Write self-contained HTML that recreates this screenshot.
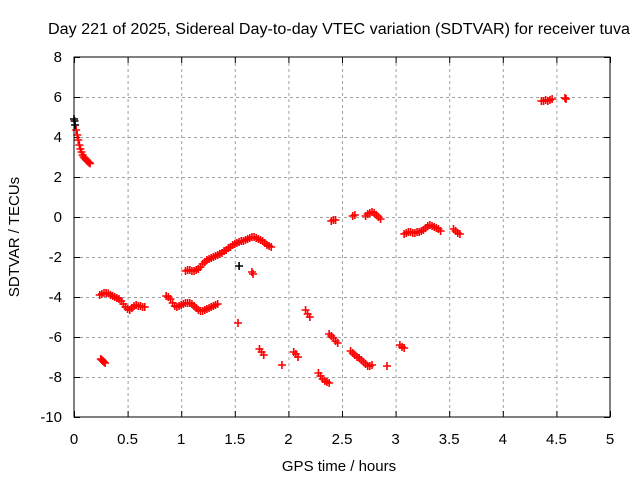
<!DOCTYPE html>
<html><head><meta charset="utf-8"><style>
body{margin:0;background:#fff}
svg text{font-family:"Liberation Sans",sans-serif;font-size:15px;fill:#000}
</style></head><body>
<svg id="chart" width="640" height="480">
<rect width="640" height="480" fill="#fff"/>
<text x="339" y="34" text-anchor="middle" style="font-size:15.5px" textLength="582" lengthAdjust="spacingAndGlyphs">Day 221 of 2025, Sidereal Day-to-day VTEC variation (SDTVAR) for receiver tuva</text>
<text x="339" y="471" text-anchor="middle">GPS time / hours</text>
<text transform="translate(19,237) rotate(-90)" text-anchor="middle">SDTVAR / TECUs</text>
<g id="grid"></g><g id="ticks"></g><g id="marks"></g>
<rect x="74" y="57" width="536" height="360" fill="none" stroke="#000" stroke-width="1"/>
</svg>
<script>
const xTicks=[0,0.5,1,1.5,2,2.5,3,3.5,4,4.5,5];
const xTickLabels=["0","0.5","1","1.5","2","2.5","3","3.5","4","4.5","5"];
const yTicks=[8,6,4,2,0,-2,-4,-6,-8,-10];
const yTickLabels=["8","6","4","2","0","-2","-4","-6","-8","-10"];
const redTimes=[0.02,0.03,0.04,0.05,0.06,0.07,0.08,0.09,0.10,0.11,0.12,0.13,0.14,0.15,
0.25,0.26,0.27,0.28,0.29,
0.24,0.26,0.28,0.30,0.32,0.34,0.36,0.38,0.40,0.42,0.44,0.46,0.48,0.50,0.52,0.54,0.56,0.58,0.60,0.62,0.64,0.66,
0.86,0.88,0.90,0.92,0.94,0.96,0.98,1.00,1.02,1.04,1.06,1.08,1.10,1.12,1.14,1.16,1.18,1.20,1.22,1.24,1.26,1.28,1.30,1.32,1.34,
1.04,1.06,1.08,1.10,1.12,1.14,1.16,1.18,1.20,1.22,1.24,1.26,1.28,1.30,1.32,1.34,1.36,1.38,1.40,1.42,1.44,1.46,1.48,1.50,1.52,1.54,1.56,1.58,1.60,1.62,1.64,1.66,1.68,1.70,1.72,1.74,1.76,1.78,1.80,1.82,1.84,
1.66,1.67,1.53,1.94,2.92,
1.73,1.75,1.77,2.05,2.07,2.09,2.16,2.18,2.20,
2.28,2.30,2.32,2.34,2.36,2.38,
2.38,2.40,2.42,2.44,2.46,
2.40,2.42,2.44,2.60,2.62,
2.58,2.60,2.62,2.64,2.66,2.68,2.70,2.72,2.74,2.76,2.78,
2.72,2.74,2.76,2.78,2.80,2.82,2.84,2.86,
3.04,3.06,3.08,
3.08,3.10,3.12,3.14,3.16,3.18,3.20,3.22,3.24,3.26,3.28,3.30,3.32,3.34,3.36,3.38,3.40,3.42,
3.54,3.56,3.58,3.60,
4.36,4.38,4.40,4.42,4.44,4.46,4.58,4.59];
const redValues=[4.35,4.1,3.85,3.6,3.4,3.25,3.1,3.0,2.95,2.88,2.82,2.77,2.72,2.68,
-7.1,-7.15,-7.2,-7.25,-7.3,
-3.9,-3.85,-3.8,-3.8,-3.82,-3.9,-3.95,-4.0,-4.05,-4.1,-4.2,-4.35,-4.5,-4.6,-4.65,-4.55,-4.45,-4.4,-4.45,-4.45,-4.5,-4.5,
-3.95,-4.0,-4.1,-4.3,-4.45,-4.5,-4.45,-4.4,-4.35,-4.3,-4.3,-4.3,-4.35,-4.45,-4.55,-4.65,-4.7,-4.7,-4.65,-4.6,-4.55,-4.5,-4.45,-4.4,-4.35,
-2.7,-2.65,-2.65,-2.7,-2.7,-2.65,-2.6,-2.5,-2.35,-2.25,-2.15,-2.1,-2.05,-2.0,-1.95,-1.9,-1.85,-1.8,-1.7,-1.65,-1.55,-1.5,-1.4,-1.35,-1.3,-1.25,-1.2,-1.2,-1.15,-1.1,-1.05,-1.0,-1.0,-1.05,-1.1,-1.15,-1.2,-1.3,-1.4,-1.45,-1.5,
-2.75,-2.85,-5.3,-7.4,-7.45,
-6.6,-6.75,-6.9,-6.75,-6.85,-7.0,-4.65,-4.85,-5.0,
-7.8,-7.95,-8.1,-8.2,-8.25,-8.3,
-5.85,-5.95,-6.05,-6.2,-6.3,
-0.2,-0.15,-0.15,0.05,0.1,
-6.7,-6.8,-6.9,-7.0,-7.05,-7.15,-7.25,-7.35,-7.45,-7.45,-7.4,
0.05,0.15,0.2,0.25,0.2,0.1,0.0,-0.1,
-6.4,-6.5,-6.55,
-0.85,-0.8,-0.75,-0.75,-0.8,-0.8,-0.75,-0.75,-0.7,-0.65,-0.55,-0.45,-0.4,-0.45,-0.5,-0.55,-0.6,-0.7,
-0.6,-0.7,-0.8,-0.85,
5.8,5.8,5.85,5.8,5.85,5.9,5.95,5.9];
const blackTimes=[0,0.005,0.01,1.54];
const blackValues=[4.9,4.8,4.6,-2.45];

const NS="http://www.w3.org/2000/svg";
const X0=74,X1=610,Y0=417,Y1=57,XMIN=0,XMAX=5,YMIN=-10,YMAX=8;
function xs(t){return X0+(t-XMIN)/(XMAX-XMIN)*(X1-X0);}
function ys(v){return Y0-(v-YMIN)/(YMAX-YMIN)*(Y0-Y1);}
function mk(tag,attrs,parent){const e=document.createElementNS(NS,tag);for(const k in attrs)e.setAttribute(k,attrs[k]);parent.appendChild(e);return e;}
const grid=document.getElementById('grid'),ticks=document.getElementById('ticks'),marks=document.getElementById('marks');
xTicks.forEach((t,i)=>{
  const x=xs(t)+0.5;
  if(i>0&&i<xTicks.length-1){const g=mk('line',{x1:x,x2:x,y1:Y1,y2:Y0,stroke:'#a0a0a0','stroke-dasharray':'3,3'},grid);
  
  }
  mk('line',{x1:x,x2:x,y1:Y0,y2:Y0-6,stroke:'#000'},ticks);
  mk('line',{x1:x,x2:x,y1:Y1,y2:Y1+6,stroke:'#000'},ticks);
  const l=mk('text',{x:xs(t),y:Y0+27,'text-anchor':'middle'},ticks);l.textContent=xTickLabels[i];
  
  
});
yTicks.forEach((v,i)=>{
  const y=ys(v)+0.5;
  if(i>0&&i<yTicks.length-1){const g=mk('line',{x1:X0,x2:X1,y1:y,y2:y,stroke:'#a0a0a0','stroke-dasharray':'3,3'},grid);
  
  }
  mk('line',{x1:X0,x2:X0+6,y1:y,y2:y,stroke:'#000'},ticks);
  mk('line',{x1:X1,x2:X1-6,y1:y,y2:y,stroke:'#000'},ticks);
  const l=mk('text',{x:X0-12,y:ys(v)+5,'text-anchor':'end'},ticks);l.textContent=yTickLabels[i];
  
  
});
function plus(t,v,col){
  const x=xs(t),y=ys(v);
  const p=mk('path',{d:`M${x-4},${y}H${x+4}M${x},${y-4}V${y+4}`,stroke:col,'stroke-width':1.6,fill:'none'},marks);
  
  
}
redTimes.forEach((t,i)=>plus(t,redValues[i],'#ff0000'));
blackTimes.forEach((t,i)=>plus(t,blackValues[i],'#000000'));
</script>
</body></html>
